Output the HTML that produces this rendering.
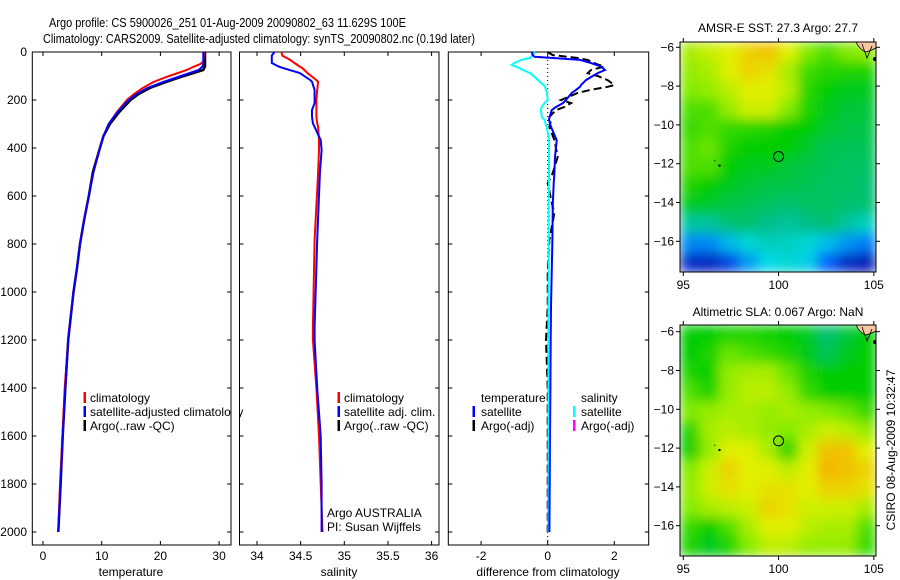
<!DOCTYPE html>
<html><head><meta charset="utf-8">
<style>
html,body{margin:0;padding:0;background:#fff;}
svg{display:block;font-family:"Liberation Sans",sans-serif;}
</style></head>
<body>
<svg id="chart" width="900" height="580" viewBox="0 0 900 580" xmlns="http://www.w3.org/2000/svg">
<defs>
<filter id="blur" x="0" y="0" width="1" height="1"><feGaussianBlur stdDeviation="6" edgeMode="duplicate"/></filter>
<clipPath id="clipm1"><rect x="680" y="42" width="196" height="230"/></clipPath>
<clipPath id="clipm2"><rect x="680" y="325" width="196" height="231"/></clipPath>
</defs>
<text x="49" y="27" font-size="13" textLength="357" lengthAdjust="spacingAndGlyphs">Argo profile: CS 5900026_251 01-Aug-2009 20090802_63 11.629S 100E</text>
<text x="43" y="43" font-size="13" textLength="432" lengthAdjust="spacingAndGlyphs">Climatology: CARS2009. Satellite-adjusted climatology: synTS_20090802.nc (0.19d later)</text>
<g id="g"></g>
</svg>
<script>
// ---- data ----
const depths = [0,20,40,50,60,75,100,125,150,175,200,250,300,350,400,500,600,700,800,900,1000,1200,1400,1600,1800,2000];
const tempClim = [27.4,27.4,27.3,26.8,25.8,24.5,21.5,18.8,17,15.5,14.3,12.6,11.2,10.3,9.7,8.6,7.8,7,6.3,5.8,5.2,4.3,3.7,3.3,2.9,2.6];
const tempSat  = [27.3,27.3,27.3,27.3,27.2,26.5,23.5,20.5,17.8,16,14.6,12.7,11.2,10.3,9.7,8.6,7.8,7,6.3,5.8,5.2,4.3,3.8,3.35,3.0,2.6];
const tempArgo = [27.6,27.6,27.6,27.6,27.6,27.3,24,21,18.2,16.3,14.9,13,11.4,10.3,9.7,8.5,7.8,7,6.3,5.8,5.2,4.3,3.8,3.35,3.0,2.6];
const salDepths = [0,15,33,46,61,67,88,117,124,158,200,213,242,270,297,312,367,408,505,783,1146,1200,1400,1600,1800,2000];
const salClim = [34.28,34.29,34.38,34.43,34.49,34.52,34.58,34.68,34.70,34.69,34.68,34.68,34.68,34.68,34.69,34.70,34.71,34.71,34.70,34.66,34.64,34.64,34.68,34.71,34.73,34.75];
const salSat  = [34.20,34.17,34.17,34.17,34.25,34.30,34.49,34.61,34.63,34.66,34.66,34.66,34.63,34.63,34.64,34.66,34.73,34.74,34.72,34.69,34.66,34.66,34.69,34.73,34.74,34.74];
const diffDepths = [0,13,20,25,33,46,54,61,75,88,100,117,138,145,158,171,200,213,229,242,270,283,312,367,437,505,547,645,670,783,920,1062,1200,1400,1600,1800,2000];
const diffTempSat = [-0.48,-0.45,-0.40,0.16,0.97,1.30,1.47,1.60,1.72,1.50,1.35,1.15,1.00,0.97,0.85,0.72,0.55,0.46,0.25,0.12,0.06,0.04,0.10,0.27,0.22,0.20,0.18,0.15,0.15,0.14,0.12,0.10,0.09,0.08,0.07,0.06,0.05];
const diffSalSat = [-0.38,-0.45,-0.50,-0.53,-0.80,-1.00,-1.08,-0.95,-0.74,-0.53,-0.42,-0.29,-0.12,-0.08,-0.05,-0.02,0.0,-0.10,-0.18,-0.20,-0.18,-0.10,-0.03,0.04,0.04,0.04,0.04,0.03,0.03,0.03,0.03,0.02,0.02,0.02,0.02,0.02,0.02];
const diffTempArgo = [0.0,0.15,0.60,0.90,1.20,1.40,1.55,1.70,1.30,1.20,1.50,1.80,2.00,1.80,1.28,0.90,0.40,0.70,0.50,0.25,0.05,0.10,0.05,0.20,0.30,0.15,0.0,0.15,0.20,0.05,0.0,0.0,-0.05,0.0,0.0,0.0,0.0];
const tempTicks = [0,10,20,30];
const salTicks = [34,34.5,35,35.5,36];
const salTickLabels = ["34","34.5","35","35.5","36"];
const diffTicks = [-2,0,2];
const depthTicks = [0,200,400,600,800,1000,1200,1400,1600,1800,2000];
const lonTicks = [95,100,105];
const latTicks = [-6,-8,-10,-12,-14,-16];
const sstGrid = [
[.74,.77,.80,.84,.86,.80,.70,.66,.70,.72],
[.72,.74,.80,.84,.82,.74,.65,.63,.62,.62],
[.70,.72,.76,.80,.80,.76,.63,.60,.58,.58],
[.66,.66,.72,.78,.78,.70,.62,.58,.56,.56],
[.64,.66,.64,.63,.62,.60,.60,.57,.55,.55],
[.66,.68,.62,.60,.60,.60,.57,.54,.54,.54],
[.66,.66,.60,.58,.58,.56,.55,.54,.53,.53],
[.62,.60,.58,.56,.55,.55,.54,.53,.53,.52],
[.58,.57,.55,.54,.53,.52,.53,.53,.52,.52],
[.48,.48,.52,.52,.50,.48,.50,.52,.48,.44],
[.28,.28,.35,.42,.45,.44,.42,.36,.30,.26],
[.10,.08,.15,.30,.40,.42,.38,.22,.10,.06]];
const slaGrid = [
[.60,.60,.62,.62,.61,.60,.58,.52,.56,.60],
[.60,.62,.68,.66,.64,.62,.58,.54,.58,.60],
[.62,.60,.72,.74,.74,.68,.62,.60,.60,.60],
[.66,.62,.72,.76,.76,.72,.64,.60,.60,.60],
[.70,.72,.74,.74,.72,.74,.72,.70,.68,.64],
[.62,.74,.76,.74,.72,.70,.74,.78,.76,.72],
[.60,.72,.80,.80,.74,.62,.78,.86,.86,.80],
[.70,.78,.84,.80,.80,.76,.80,.88,.86,.84],
[.72,.78,.82,.80,.82,.82,.80,.84,.84,.82],
[.70,.74,.76,.78,.84,.82,.78,.78,.78,.74],
[.64,.60,.66,.74,.80,.80,.76,.74,.74,.66],
[.62,.58,.62,.70,.76,.76,.72,.72,.72,.64]];

// ---- helpers ----
const NS="http://www.w3.org/2000/svg";
const root=document.getElementById('g');
function mk(tag,attrs,parent){const e=document.createElementNS(NS,tag);for(const k in attrs)e.setAttribute(k,attrs[k]);(parent||root).appendChild(e);return e;}
const yDepth=d=>52+d*0.24;
const xTemp=t=>43+t*5.87;
const xSal=s=>257+(s-34)*87.3;
const xDiff=v=>547.7+v*33.3;
const xLon=l=>683.3+(l-95)*19.05;
const yLat1=l=>47.3+(-6-l)*19.4;
const yLat2=l=>331.7+(-6-l)*19.4;

function frame(x0,x1,name){
  const r=mk('rect',{x:x0,y:52,width:x1-x0,height:493,fill:'none',stroke:'#000','stroke-width':1});
  
  
}
function depthTicksOn(x0,x1,labels){
  depthTicks.forEach(d=>{
    const y=yDepth(d);
    mk('line',{x1:x0,x2:x0+4,y1:y,y2:y,stroke:'#000'});
    mk('line',{x1:x1-4,x2:x1,y1:y,y2:y,stroke:'#000'});
    if(labels){const t=mk('text',{x:27,y:y+4,'font-size':12,'text-anchor':'end'});t.textContent=d;
      
      }
  });
}
function xTicksOn(vals,labels,fx,name){
  vals.forEach((v,i)=>{
    const x=fx(v);
    mk('line',{x1:x,x2:x,y1:52,y2:56,stroke:'#000'});
    mk('line',{x1:x,x2:x,y1:541,y2:545,stroke:'#000'});
    const t=mk('text',{x:x,y:560,'font-size':12,'text-anchor':'middle'});t.textContent=labels[i];
    
    
  });
}
function line(xs,ds,fx,color,name,extra){
  const pts=xs.map((v,i)=>fx(v).toFixed(1)+','+yDepth(ds[i]).toFixed(1)).join(' ');
  const p=mk('polyline',Object.assign({points:pts,fill:'none',stroke:color,'stroke-width':2},extra||{}));
  
  
}
function label(x,y,txt,name,size,anchor){
  const t=mk('text',{x:x,y:y,'font-size':size||12,'text-anchor':anchor||'start'});t.textContent=txt;
  
  
  return t;
}
function legBar(x,y,color){
  const r=mk('rect',{x:x,y:y-10,width:2.5,height:11,fill:color});
  
  
}

// ---- panel 1 temperature ----
frame(32.3,231,'temperature-panel');
depthTicksOn(32.3,231,true);
xTicksOn(tempTicks,tempTicks.map(String),xTemp,'temperature-tick-label');
line(tempArgo,depths,xTemp,'#000','temperature-argo-line',{'stroke-width':2.5});
line(tempClim,depths,xTemp,'#f00','temperature-climatology-line');
line(tempSat,depths,xTemp,'#00f','temperature-satellite-line');
label(131,576,'temperature','temperature-axis-title',12,'middle');
legBar(83.5,402,'#f00');label(90,402,'climatology','legend-climatology');
legBar(83.5,416,'#00f');label(90,416,'satellite-adjusted climatology','legend-satellite-adjusted');
legBar(83.5,430,'#000');label(90,430,'Argo(..raw -QC)','legend-argo');
mk('rect',{x:231.5,y:405,width:7.5,height:14,fill:'#fff'});
frame(239.5,439,'salinity-panel');

// ---- panel 2 salinity ----
depthTicksOn(239.5,439,false);
xTicksOn(salTicks,salTickLabels,xSal,'salinity-tick-label');
line(salClim,salDepths,xSal,'#f00','salinity-climatology-line');
line(salSat,salDepths,xSal,'#00f','salinity-satellite-line');
label(339,576,'salinity','salinity-axis-title',12,'middle');
legBar(337.5,402,'#f00');label(344,402,'climatology','legend-sal-climatology');
legBar(337.5,416,'#00f');label(344,416,'satellite adj. clim.','legend-sal-satellite');
legBar(337.5,430,'#000');label(344,430,'Argo(..raw -QC)','legend-sal-argo');
label(327,517,'Argo AUSTRALIA','argo-australia-label');
label(327,531,'PI: Susan Wijffels','pi-label');

// ---- panel 3 difference ----
frame(448.3,648.7,'difference-panel');
depthTicksOn(448.3,648.7,false);
xTicksOn(diffTicks,diffTicks.map(String),xDiff,'difference-tick-label');
{const z=mk('line',{x1:xDiff(0),x2:xDiff(0),y1:52,y2:545,stroke:'#000','stroke-dasharray':'1,3'});

}
line(diffTempArgo,diffDepths,xDiff,'#000','temp-argo-diff-line',{'stroke-dasharray':'8,4'});
line(diffSalSat,diffDepths,xDiff,'#0ff','salinity-satellite-diff-line');
line(diffTempSat,diffDepths,xDiff,'#00f','temperature-satellite-diff-line');
label(548,576,'difference from climatology','difference-axis-title',12,'middle');
label(481,402,'temperature','legend-temperature-header');
legBar(472.5,416,'#00f');label(481,416,'satellite','legend-temp-satellite');
legBar(472.5,430,'#000');label(481,430,'Argo(-adj)','legend-temp-argo');
label(581,402,'salinity','legend-salinity-header');
legBar(573,416,'#0ff');label(581,416,'satellite','legend-sal-sat');
legBar(573,430,'#f0f');label(581,430,'Argo(-adj)','legend-sal-argo');

// ---- maps ----
function jet(v){
  const stops=[[0,[0,0,140]],[0.2,[0,80,255]],[0.4,[0,220,230]],[0.5,[0,190,140]],[0.6,[0,205,0]],[0.7,[130,235,0]],[0.8,[225,240,0]],[0.9,[250,165,0]],[1,[240,60,0]]];
  for(let i=1;i<stops.length;i++){if(v<=stops[i][0]){const a=stops[i-1],b=stops[i],f=(v-a[0])/(b[0]-a[0]);
    return 'rgb('+a[1].map((c,j)=>Math.round(c+(b[1][j]-c)*f)).join(',')+')';}}
  return 'rgb(240,60,0)';
}
function map(grid,top,h,yLat,clip,name,title,titleY){
  const x0=680,w=196;
  const g=mk('g',{'clip-path':'url(#'+clip+')'});
  
  
  const inner=mk('g',{filter:'url(#blur)'},g);
  const rows=grid.length,cols=grid[0].length,cw=w/cols,ch=h/rows;
  grid.forEach((row,r)=>row.forEach((v,c)=>{
    const cell=mk('rect',{x:x0+c*cw,y:top+r*ch,width:cw+0.6,height:ch+0.6,fill:jet(v)},inner);
    
    
  }));
  mk('path',{d:`M${x0+w-20},${top} q4,8 10,10 q6,-2 10,-4 v-6 z`,fill:'#f5c8a0',stroke:'#000','stroke-width':0.8},g);
  mk('path',{d:`M${x0+w-14},${top+2} l5,14 l5,-12`,fill:'none',stroke:'#000','stroke-width':0.8},g);
  mk('circle',{cx:x0+w-1,cy:top+17,r:2,fill:'#000'},g);
  const b=mk('rect',{x:x0,y:top,width:w,height:h,fill:'none',stroke:'#000'});
  
  
  const c=mk('circle',{cx:xLon(100),cy:yLat(-11.63),r:5,fill:'none',stroke:'#000','stroke-width':1});
  
  
  mk('circle',{cx:xLon(96.9),cy:yLat(-12.1),r:1.2,fill:'#000'});
  mk('circle',{cx:xLon(96.65),cy:yLat(-11.85),r:0.6,fill:'#000'});
  latTicks.forEach(l=>{const y=yLat(l);
    mk('line',{x1:x0-4,x2:x0,y1:y,y2:y,stroke:'#000'});
    mk('line',{x1:x0+w,x2:x0+w+4,y1:y,y2:y,stroke:'#000'});
    label(x0-6,y+4,String(l).replace('-','\u2212'),'latitude-tick-label',12,'end');});
  lonTicks.forEach(l=>{const x=xLon(l);
    mk('line',{x1:x,x2:x,y1:top-4,y2:top,stroke:'#000'});
    mk('line',{x1:x,x2:x,y1:top+h,y2:top+h+4,stroke:'#000'});
    label(x,top+h+17,String(l),'longitude-tick-label',12,'middle');});
  label(778,titleY,title,name+'-title',12,'middle');
}
map(sstGrid,42,230,yLat1,'clipm1','sst-map','AMSR-E SST: 27.3 Argo: 27.7',32);
map(slaGrid,325,231,yLat2,'clipm2','sla-map','Altimetric SLA: 0.067 Argo: NaN',316);
{const t=label(0,0,'CSIRO 08-Aug-2009 10:32:47','timestamp-label',12,'middle');
t.setAttribute('transform','translate(895,450) rotate(-90)');}
</script>
</body></html>
